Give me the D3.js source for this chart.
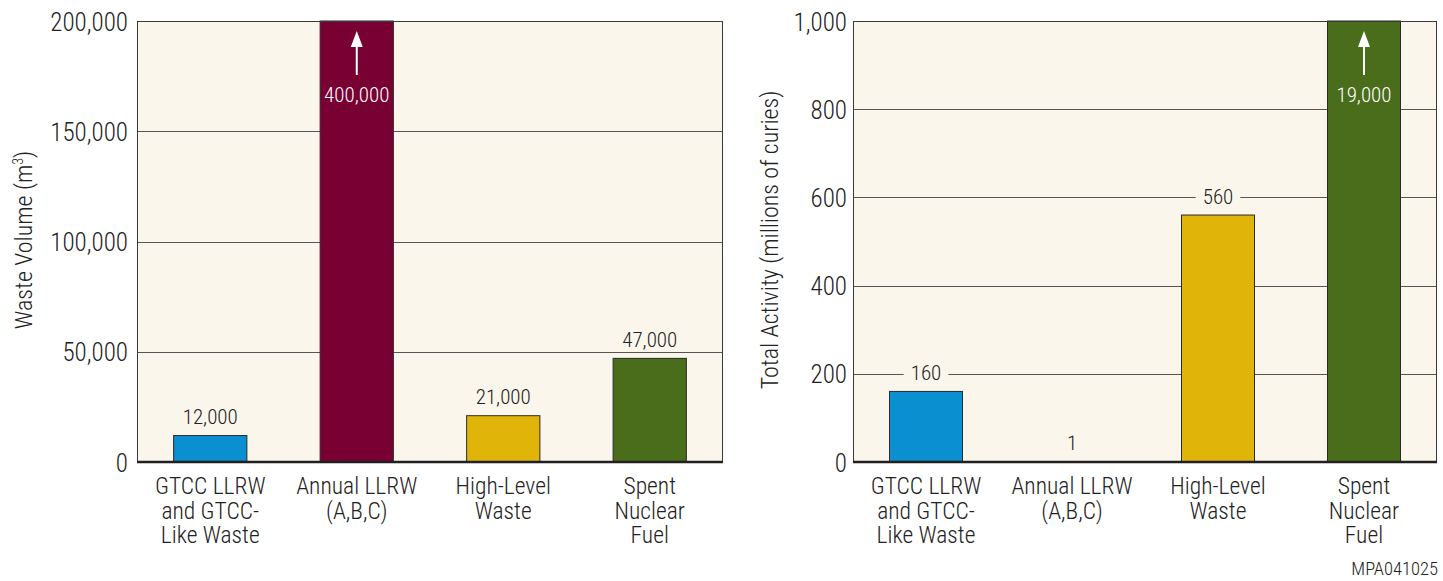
<!DOCTYPE html>
<html><head><meta charset="utf-8">
<script src="https://cdn.jsdelivr.net/npm/d3@7"></script>
<style>
body{margin:0;background:#fff;}
text{font-family:"Roboto Condensed","Liberation Sans Narrow","Arial Narrow",sans-serif;font-weight:300;fill:#222;}
</style></head>
<body><svg id="c" width="1443" height="581"></svg>
<script>
const categories = [["GTCC LLRW","and GTCC-","Like Waste"],["Annual LLRW","(A,B,C)"],["High-Level","Waste"],["Spent","Nuclear","Fuel"]];
const colors = ["#0a8fd0","#780032","#e0b408","#4a6d1b"];
const volumeValues = [12000, 400000, 21000, 47000];
const volumeLabels = ["12,000","400,000","21,000","47,000"];
const volumeTicks = [0, 50000, 100000, 150000, 200000];
const activityValues = [160, 1, 560, 19000];
const activityLabels = ["160","1","560","19,000"];
const activityTicks = [0, 200, 400, 600, 800, 1000];

const svg = d3.select("#c");

function panel(opt){
  const g = svg.append("g");
  const x = d3.scaleBand().domain(d3.range(categories.length)).range([opt.x0, opt.x1]).paddingInner(0.5).paddingOuter(0.25);
  const y = d3.scaleLinear().domain([0, opt.max]).range([462, 21]).clamp(true);
  g.append("rect").attr("x",opt.x0).attr("y",21).attr("width",opt.x1-opt.x0).attr("height",441).attr("fill","#faf6ec");
  g.selectAll(".grid").data(opt.ticks.slice(1,-1)).join("line")
    .attr("x1",opt.x0).attr("x2",opt.x1).attr("y1",d=>Math.round(y(d))+0.5).attr("y2",d=>Math.round(y(d))+0.5)
    .attr("stroke","#555").attr("stroke-width",1);
  g.selectAll(".bar").data(opt.values).join("rect")
    .attr("x",(d,i)=>x(i)).attr("width",x.bandwidth())
    .attr("y",d=>y(d)).attr("height",d=>462-y(d))
    .attr("fill",(d,i)=>colors[i]).attr("stroke",(d,i)=> (462-y(d))>1 ? "#2a2a2a":"none").attr("stroke-width",1);
  opt.values.forEach((v,i)=>{
    const cx = x(i)+x.bandwidth()/2;
    if (v > opt.max){
      g.append("line").attr("x1",cx).attr("x2",cx).attr("y1",75).attr("y2",42).attr("stroke","#fff").attr("stroke-width",2);
      g.append("path").attr("d",`M${cx},31 L${cx-6},47 L${cx+6},47 Z`).attr("fill","#fff");
      g.append("text").attr("x",cx).attr("y",102).attr("text-anchor","middle").attr("font-size",21).style("fill","#fff").text(opt.labels[i]);
    } else {
      const ty = y(v)-19;
      const t = g.append("text").attr("x",cx).attr("y",ty+7.5).attr("text-anchor","middle").attr("font-size",21).text(opt.labels[i]);
      if (opt.patch){
        const bb = t.node().getBBox();
        g.insert("rect","text").attr("x",bb.x-7).attr("y",ty-2).attr("width",bb.width+14).attr("height",5).attr("fill","#faf6ec");
      }
    }
  });
  g.append("rect").attr("x",opt.x0+0.5).attr("y",21.5).attr("width",opt.x1-opt.x0-1).attr("height",440).attr("fill","none").attr("stroke","#3a3a3a").attr("stroke-width",1);
  g.append("line").attr("x1",opt.x0).attr("x2",opt.x1).attr("y1",462).attr("y2",462).attr("stroke","#231f20").attr("stroke-width",2.5);
  const ax = g.append("g").attr("transform",`translate(${opt.x0},0)`)
    .call(d3.axisLeft(y).tickValues(opt.ticks).tickSize(0).tickPadding(opt.pad).tickFormat(d3.format(",")));
  ax.select(".domain").remove();
  ax.selectAll("text").attr("font-size",25).style("font-family",null).attr("dy","0.36em");
  categories.forEach((lines,i)=>{
    const cx = x(i)+x.bandwidth()/2;
    const t = g.append("text").attr("text-anchor","middle").attr("font-size",23.5);
    lines.forEach((l,j)=> t.append("tspan").attr("x",cx).attr("y",494+j*24.5).text(l));
  });
  const tt = g.append("text").attr("transform",`translate(${opt.tx},${opt.ty}) rotate(-90)`).attr("text-anchor","middle").attr("font-size",24);
  opt.title(tt);
  return g;
}

panel({x0:137,x1:723,max:200000,ticks:volumeTicks,values:volumeValues,labels:volumeLabels,pad:9,patch:false,tx:32,ty:240,
  title:t=>{t.append("tspan").text("Waste Volume (m");t.append("tspan").attr("font-size",14).attr("dy",-9).text("3");t.append("tspan").attr("dy",9).text(")");}});
panel({x0:853,x1:1437,max:1000,ticks:activityTicks,values:activityValues,labels:activityLabels,pad:6,patch:true,tx:778,ty:240,
  title:t=>t.text("Total Activity (millions of curies)")});

svg.append("text").attr("x",1438).attr("y",575).attr("text-anchor","end").attr("font-size",18.5).text("MPA041025");
</script></body></html>
